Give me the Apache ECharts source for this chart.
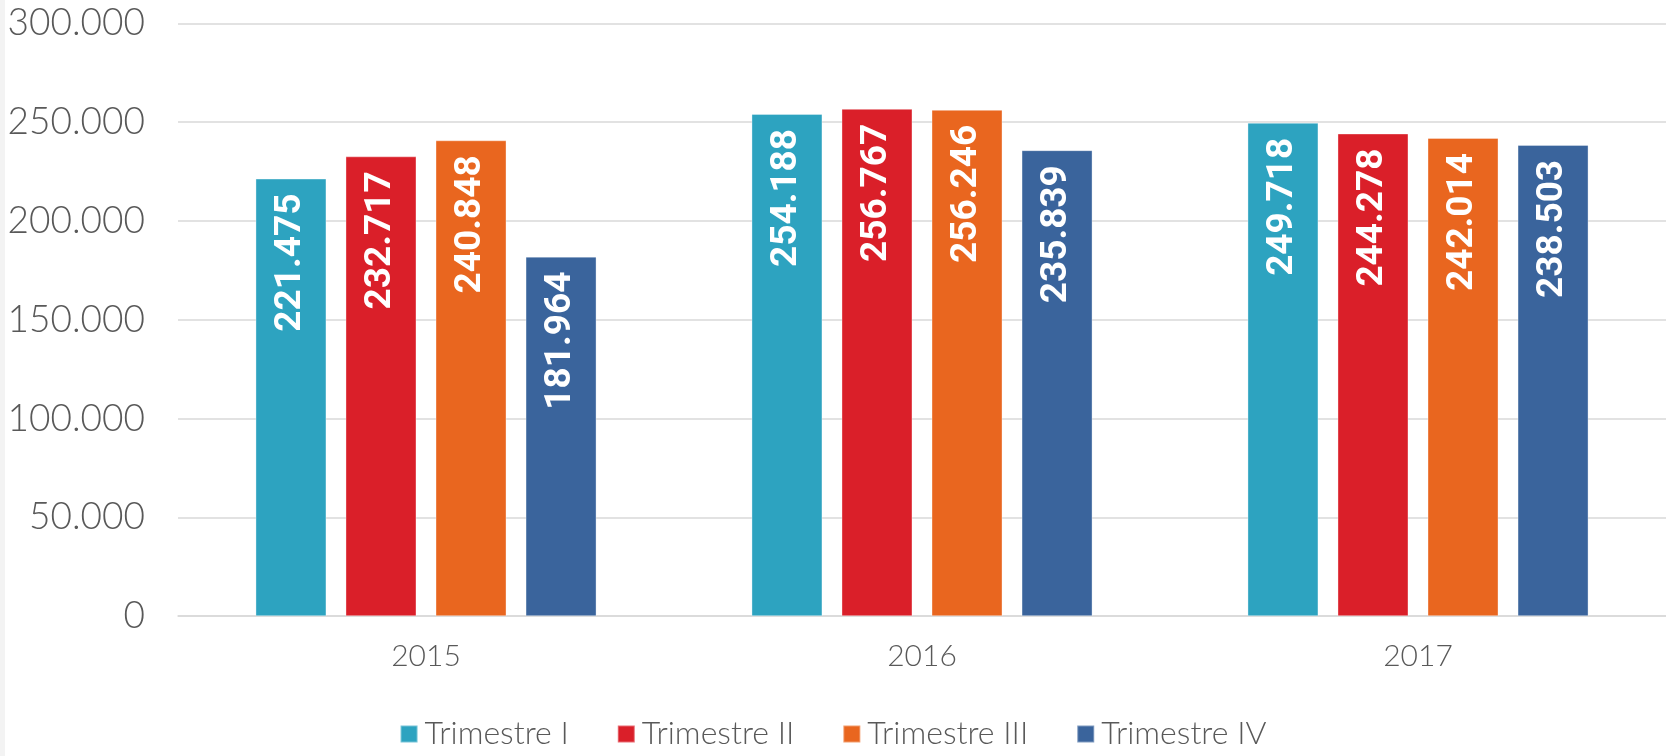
<!DOCTYPE html>
<html>
<head>
<meta charset="utf-8">
<style>
html,body{margin:0;padding:0;background:#fff;}
#chart{width:1666px;height:756px;}
</style>
<script src="https://cdn.jsdelivr.net/npm/echarts@6/dist/echarts.min.js"></script>
</head>
<body>
<div id="chart"></div>
<script>
const years = ['2015', '2016', '2017'];
const seriesNames = ['Trimestre I', 'Trimestre II', 'Trimestre III', 'Trimestre IV'];
const trimestreI = [221475, 254188, 249718];
const trimestreII = [232717, 256767, 244278];
const trimestreIII = [240848, 256246, 242014];
const trimestreIV = [181964, 235839, 238503];
const colors = ['#2DA3C0', '#DA1F29', '#E9661F', '#3A649C'];

function fmt(v) {
  return String(v).replace(/\B(?=(\d{3})+(?!\d))/g, '.');
}

const chart = echarts.init(document.getElementById('chart'), null, {renderer: 'canvas'});
const values = [trimestreI, trimestreII, trimestreIII, trimestreIV];
const series = values.map((d, i) => ({
  name: seriesNames[i],
  type: 'bar',
  data: d,
  barWidth: 71,
  barGap: '26.8%',
  itemStyle: {color: colors[i], borderColor: 'rgba(255,255,255,0.35)', borderWidth: 1},
  label: {
    show: true,
    position: 'insideTop',
    rotate: 90,
    align: 'right',
    verticalAlign: 'middle',
    distance: 15,
    color: '#fff',
    fontFamily: 'Roboto',
    fontWeight: 'bold',
    fontSize: 37,
    formatter: p => fmt(p.value)
  }
}));

chart.setOption({
  animation: false,
  color: colors,
  graphic: [{type: 'rect', left: 0, top: 0, shape: {x: 0, y: 0, width: 5, height: 756}, style: {fill: '#f3f3f3'}, silent: true}],
  grid: {left: 178, width: 1492.5, top: 23.4, height: 592.8, containLabel: false},
  legend: {
    data: seriesNames,
    bottom: 1,
    left: 'center',
    itemWidth: 17,
    itemHeight: 17,
    itemGap: 48,
    icon: 'rect',
    textStyle: {color: '#595959', fontFamily: 'Lato', fontWeight: 300, fontSize: 32, padding: [0, 0, 0, 2]}
  },
  xAxis: {
    type: 'category',
    data: years,
    axisTick: {show: false},
    axisLine: {lineStyle: {color: '#d9d9d9', width: 1.5}},
    axisLabel: {color: '#595959', fontFamily: 'Lato', fontWeight: 300, fontSize: 30, margin: 25}
  },
  yAxis: {
    type: 'value',
    min: 0,
    max: 300000,
    interval: 50000,
    axisLine: {show: false},
    axisTick: {show: false},
    splitLine: {lineStyle: {color: '#d9d9d9', width: 1.5}},
    axisLabel: {color: '#595959', fontFamily: 'Lato', fontWeight: 300, fontSize: 37, margin: 33, formatter: v => fmt(v)}
  },
  series: series
});
</script>
</body>
</html>
